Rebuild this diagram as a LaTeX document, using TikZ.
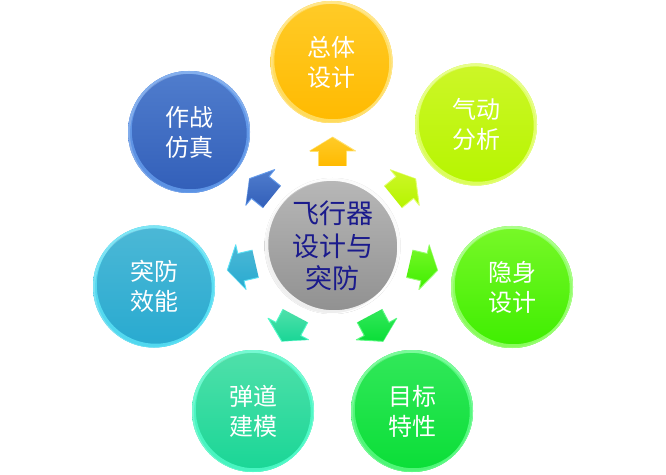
\documentclass[tikz,border=0pt]{standalone}
\usepackage{fontspec}
\setmainfont{Noto Sans CJK SC}
\usetikzlibrary{calc}
\definecolor{at}{HTML}{FFCB28}\definecolor{ab}{HTML}{FFBA00}\definecolor{al}{HTML}{FFE16E}
\definecolor{bt}{HTML}{CDF628}\definecolor{bb}{HTML}{B6F500}\definecolor{bl}{HTML}{E2FF6E}
\definecolor{dt}{HTML}{78F828}\definecolor{db}{HTML}{3EEE00}\definecolor{dl}{HTML}{96FF6E}
\definecolor{et}{HTML}{32E85A}\definecolor{eb}{HTML}{0ADE37}\definecolor{el}{HTML}{5AFA82}
\definecolor{ft}{HTML}{50E0AA}\definecolor{fb}{HTML}{19D696}\definecolor{fl}{HTML}{50FAC8}
\definecolor{gt}{HTML}{4CB8D6}\definecolor{gb}{HTML}{28AAD0}\definecolor{gl}{HTML}{5AE1F5}
\definecolor{ht}{HTML}{507DCD}\definecolor{hb}{HTML}{325FB9}\definecolor{hl}{HTML}{649BEB}
\definecolor{ct}{HTML}{B8B8B8}\definecolor{cb}{HTML}{909090}
\definecolor{navy}{HTML}{1A1A8C}
\tikzset{
  x=1pt,y=1pt,
  ball/.style={circle,inner sep=0pt,minimum size=122pt,top color=#1t,bottom color=#1b,
    text=white,align=center,font=\fontsize{24}{30}\selectfont},
}
% \glossball{node}{radius}{light colour}: rim crescents
\newcommand{\glossball}[3]{%
  \fill[#3,opacity=.85,even odd rule] (#1.center) circle (#2) ($(#1.center)+(45:2.2)$) circle (#2-2.2);
  \fill[#3,opacity=.95,even odd rule] (#1.center) circle (#2) ($(#1.center)+(215:1.8)$) circle (#2-1.8);
  \fill[white,opacity=.22,even odd rule] (#1.center) circle (#2) ($(#1.center)+(-70:1.5)$) circle (#2-1.5);
}
% \blockarrow{distance}{angle}{colour prefix}
\newcommand{\blockarrow}[3]{%
  \begin{scope}[shift={($(c)+(#2:#1)$)},rotate=#2]
    \shade[top color=#3t,bottom color=#3b]
      (15,0) -- (1,23) -- (1,14) -- (-14,14) -- (-14,-14) -- (1,-14) -- (1,-23) -- cycle;
    \draw[#3l,line width=.9,line join=round] (1,23) -- (1,14) -- (-14,14);
    \draw[#3l,line width=.9,line join=round] (15,0) -- (1,-23) -- (1,-14) -- (-14,-14);
    \draw[#3l,opacity=.7,line width=.6] (15,0) -- (1,23);
  \end{scope}%
}
\begin{document}
\begin{tikzpicture}
\useasboundingbox (0,0) rectangle (666,474);
\fill[white] (0,0) rectangle (666,474);
\node[ball=c,minimum size=136pt] (c) at (332.5,228) {};
\node[ball=a] (a) at (331.5,412) {总体\\设计};
\node[ball=b] (b) at (476,349.5) {气动\\分析};
\node[ball=d] (d) at (512,187) {隐身\\设计};
\node[ball=e] (e) at (412,63) {目标\\特性};
\node[ball=f] (f) at (253,63) {弹道\\建模};
\node[ball=g] (g) at (154,187.5) {突防\\效能};
\node[ball=h] (h) at (189,342) {作战\\仿真};
\glossball{a}{61}{al}
\glossball{b}{61}{bl}
\glossball{d}{61}{dl}
\glossball{e}{61}{el}
\glossball{f}{61}{fl}
\glossball{g}{61}{gl}
\glossball{h}{61}{hl}
\glossball{c}{68}{white}
\node[text=navy,align=center,font=\fontsize{27}{32.5}\selectfont] (ct) at (c.center) {飞行器\\设计与\\突防};
\blockarrow{94}{90}{a}
\blockarrow{92}{39}{b}
\blockarrow{93}{-13}{d}
\blockarrow{93}{-62}{e}
\blockarrow{93}{-118}{f}
\blockarrow{93}{193}{g}
\blockarrow{92}{141}{h}
\end{tikzpicture}
\end{document}
